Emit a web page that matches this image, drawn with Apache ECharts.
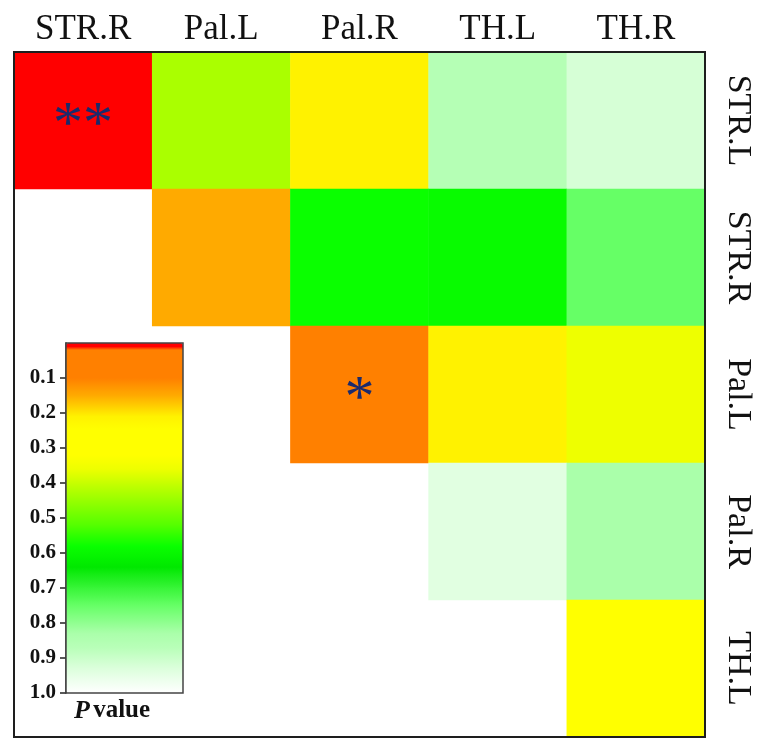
<!DOCTYPE html>
<html>
<head>
<meta charset="utf-8">
<script src="https://cdn.jsdelivr.net/npm/echarts@6/dist/echarts.min.js"></script>
<style>
  html, body { margin: 0; padding: 0; background: #ffffff; }
  #chart { width: 757px; height: 739px; }
</style>
</head>
<body>
<div id="chart"></div>
<script>
// Regions compared pairwise
const colRegions = ['STR.R', 'Pal.L', 'Pal.R', 'TH.L', 'TH.R'];
const rowRegions = ['STR.L', 'STR.R', 'Pal.L', 'Pal.R', 'TH.L'];

// P values per row (null = pair not shown, lower triangle)
const pSTRL = [0.005, 0.43, 0.21, 0.86, 0.92];
const pSTRR = [null, 0.15, 0.58, 0.59, 0.75];
const pPalL = [null, null, 0.04, 0.21, 0.36];
const pPalR = [null, null, null, 0.94, 0.83];
const pTHL  = [null, null, null, null, 0.28];

// Colour scale for P value: [value, colour]
const colorStops = [
  [0.00, '#ff0000'], [0.01, '#ff0000'], [0.02, '#ff8000'], [0.10, '#ff8000'],
  [0.15, '#ffaa00'], [0.21, '#fff200'], [0.25, '#ffff00'], [0.32, '#ffff00'],
  [0.36, '#eeff00'], [0.43, '#aaff00'], [0.52, '#55ff00'], [0.58, '#0aff00'],
  [0.64, '#00e800'], [0.75, '#66ff66'], [0.83, '#aaffaa'], [0.87, '#b8ffb8'],
  [0.93, '#dcffdc'], [1.00, '#ffffff']
];

// Colour-bar ticks
const pTicks = [0.1, 0.2, 0.3, 0.4, 0.5, 0.6, 0.7, 0.8, 0.9, 1.0];

const pRows = [pSTRL, pSTRR, pPalL, pPalR, pTHL];

function hexToRgb(h) {
  return [parseInt(h.slice(1, 3), 16), parseInt(h.slice(3, 5), 16), parseInt(h.slice(5, 7), 16)];
}
function colourAt(v) {
  for (let i = 1; i < colorStops.length; i++) {
    const [v1, c1] = colorStops[i];
    const [v0, c0] = colorStops[i - 1];
    if (v <= v1) {
      const t = v1 === v0 ? 0 : (v - v0) / (v1 - v0);
      const a = hexToRgb(c0), b = hexToRgb(c1);
      return 'rgb(' + a.map((x, k) => Math.round(x + (b[k] - x) * t)).join(',') + ')';
    }
  }
  return colorStops[colorStops.length - 1][1];
}
// evenly spaced colour list for the continuous visualMap
const rampColours = [];
for (let i = 0; i <= 400; i++) rampColours.push(colourAt(i / 400));

const cells = [];
pRows.forEach((row, r) => row.forEach((p, c) => { if (p !== null) cells.push([c, r, p]); }));

// significance marks: ** p < 0.01, * p < 0.05
function stars(p) { return p < 0.01 ? '**' : (p < 0.05 ? '*' : ''); }

const serif = '"Liberation Serif", "Times New Roman", serif';

const chart = echarts.init(document.getElementById('chart'), null, { renderer: 'canvas' });
chart.setOption({
  animation: false,
  backgroundColor: '#ffffff',
  grid: [
    { left: 14, top: 52, width: 691, height: 685, show: true, z: 10,
      borderColor: '#1e1e1e', borderWidth: 2, backgroundColor: 'transparent' },
    { left: 66, top: 343, width: 117, height: 350, show: true, z: 10,
      borderColor: '#444444', borderWidth: 1.5, backgroundColor: 'transparent' }
  ],
  xAxis: [
    { type: 'category', data: colRegions, gridIndex: 0, position: 'top',
      axisLine: { show: false }, axisTick: { show: false }, splitLine: { show: false },
      axisLabel: { fontFamily: serif, fontSize: 35, color: '#111111', margin: 5 } },
    { type: 'value', gridIndex: 1, show: false, min: 0, max: 1 }
  ],
  yAxis: [
    { type: 'category', data: rowRegions, gridIndex: 0, position: 'right', inverse: true,
      axisLine: { show: false }, axisTick: { show: false }, splitLine: { show: false },
      axisLabel: { fontFamily: serif, fontSize: 34, color: '#111111', rotate: -90, margin: 16 } },
    { type: 'value', gridIndex: 1, position: 'left', inverse: true, min: 0, max: 1, interval: 0.1,
      splitLine: { show: false },
      axisLine: { show: true, lineStyle: { color: '#222222', width: 1.5 } },
      axisTick: { show: true, length: 6, customValues: pTicks, lineStyle: { color: '#222222', width: 1.5 } },
      axisLabel: { fontFamily: serif, fontSize: 21, fontWeight: 'bold', color: '#111111', margin: 10,
        customValues: pTicks, formatter: v => v.toFixed(1) } }
  ],
  visualMap: {
    type: 'continuous', min: 0, max: 1, inverse: true, seriesIndex: 0,
    orient: 'vertical', left: 66, top: 343, itemWidth: 117, itemHeight: 350,
    calculable: false, padding: 0, text: null, hoverLink: false,
    inRange: { color: rampColours }
  },
  series: [{
    type: 'heatmap', xAxisIndex: 0, yAxisIndex: 0, data: cells,
    emphasis: { disabled: true },
    label: {
      show: true, formatter: p => stars(p.value[2]),
      fontFamily: serif, fontSize: 60, fontWeight: 'normal', color: '#1b2a6b', offset: [0, 6]
    }
  }],
  graphic: [{
    type: 'text', x: 112, y: 711, z: 20,
    style: {
      text: '{i|P} {b|value}', align: 'center', verticalAlign: 'middle',
      rich: {
        i: { fontFamily: serif, fontSize: 26, fontStyle: 'italic', fontWeight: 'bold', fill: '#111111' },
        b: { fontFamily: serif, fontSize: 25, fontWeight: 'bold', fill: '#111111' }
      }
    }
  }]
});
</script>
</body>
</html>
